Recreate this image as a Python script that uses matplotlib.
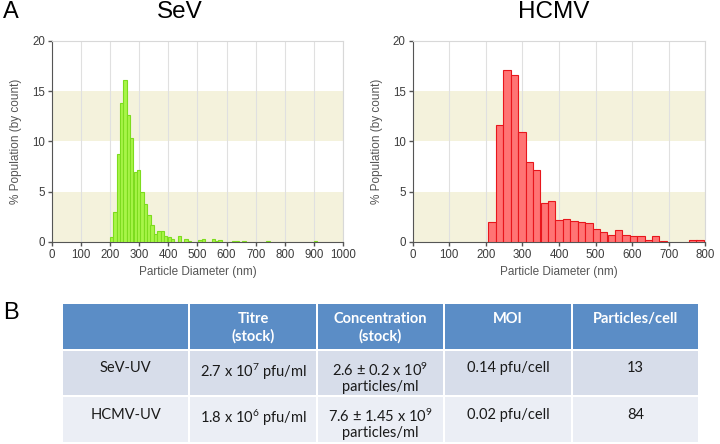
import matplotlib.pyplot as plt
from matplotlib.patches import Rectangle

plt.rcParams['font.family'] = ['Liberation Sans', 'DejaVu Sans']
plt.rcParams['mathtext.fontset'] = 'custom'
plt.rcParams['mathtext.rm'] = 'Lato'
plt.rcParams['mathtext.it'] = 'Lato'
plt.rcParams['mathtext.default'] = 'rm'

# SeV particle size distribution (bin centre in nm, % population)
sev_diam = [204, 216, 228, 239, 251, 263, 274, 286, 298, 309, 321, 333, 344,
            356, 368, 380, 391, 403, 415, 438, 461, 473, 508, 520, 555, 566,
            578, 625, 637, 660, 742, 905]
sev_pct = [0.5, 3.0, 8.8, 13.8, 16.1, 12.6, 10.3, 7.0, 7.2, 5.0, 3.8, 2.7, 1.7,
           0.8, 1.1, 1.1, 0.6, 0.5, 0.3, 0.6, 0.3, 0.1, 0.2, 0.3, 0.3, 0.1,
           0.15, 0.05, 0.1, 0.1, 0.1, 0.1]
sev_binw = 11.7

# HCMV particle size distribution
hcmv_diam = [217, 238, 258, 278, 299, 319, 339, 360, 380, 400, 421, 441, 461,
             482, 502, 522, 543, 563, 583, 603, 624, 644, 664, 685, 766, 786]
hcmv_pct = [1.95, 11.6, 17.15, 16.6, 10.95, 7.93, 7.2, 3.83, 4.1, 2.2, 2.3,
            2.08, 1.98, 1.88, 1.29, 0.96, 0.66, 1.22, 0.66, 0.56, 0.56, 0.17,
            0.6, 0.05, 0.17, 0.17]
hcmv_binw = 20.3

# table B
col_heads = ['', 'Titre\n(stock)', 'Concentration\n(stock)', 'MOI', 'Particles/cell']
row_names = ['SeV-UV', 'HCMV-UV']
titre = [r'2.7 x 10$^7$ pfu/ml', r'1.8 x 10$^6$ pfu/ml']
conc = [r'2.6 ± 0.2 x 10$^9$' + '\nparticles/ml',
        r'7.6 ± 1.45 x 10$^9$' + '\nparticles/ml']
moi = ['0.14 pfu/cell', '0.02 pfu/cell']
per_cell = ['13', '84']

fig = plt.figure(figsize=(7.2, 4.44), dpi=100)


def hist_panel(ax, diam, pct, binw, xmax, face, edge):
    for lo in (0, 10):
        ax.axhspan(lo, lo + 5, color='#f4f2dc', lw=0, zorder=0)
    ax.bar(diam, pct, width=binw, color=face, edgecolor=edge, linewidth=0.8, zorder=3)
    ax.set_xlim(0, xmax)
    ax.set_ylim(0, 20)
    ax.set_xticks(range(0, xmax + 1, 100))
    ax.set_yticks(range(0, 21, 5))
    ax.set_axisbelow(True)
    ax.grid(axis='x', color='#e0e0e0', lw=0.8)
    for s in ('left', 'bottom'):
        ax.spines[s].set_color('#555555')
    for s in ('top', 'right'):
        ax.spines[s].set_color('#d8d8d8')
    ax.tick_params(length=3, width=1, color='#555555', labelsize=8.3,
                   labelcolor='#3c3c3c', pad=2)
    ax.set_xlabel('Particle Diameter (nm)', fontsize=8.5, color='#555555', labelpad=4)
    ax.set_ylabel('% Population (by count)', fontsize=8.5, color='#555555', labelpad=7)


ax1 = fig.add_axes([0.0722, 0.455, 0.4042, 0.4527])
hist_panel(ax1, sev_diam, sev_pct, sev_binw, 1000, '#a8f548', '#7ddc1e')
ax2 = fig.add_axes([0.5732, 0.455, 0.4064, 0.4527])
hist_panel(ax2, hcmv_diam, hcmv_pct, hcmv_binw, 800, '#ff7474', '#e8161c')

fig.text(0.004, 0.972, 'A', fontsize=17, va='center', ha='left')
fig.text(0.25, 0.972, 'SeV', fontsize=17.5, va='center', ha='center')
fig.text(0.769, 0.972, 'HCMV', fontsize=17.5, va='center', ha='center')
fig.text(0.004, 0.296, 'B', fontsize=17, va='center', ha='left')

# table
axt = fig.add_axes([0.0861, 0.0023, 0.8847, 0.3153])
axt.set_xlim(0, 5)
axt.set_ylim(3, 0)
axt.axis('off')
rows = [col_heads] + [[row_names[i], titre[i], conc[i], moi[i], per_cell[i]]
                      for i in range(len(row_names))]
fills = ['#5b8dc6', '#d7ddea', '#ebeef5']
gx, gy = 0.008, 0.022
for r, cells in enumerate(rows):
    for c, txt in enumerate(cells):
        axt.add_patch(Rectangle((c + gx, r + gy), 1 - 2 * gx, 1 - 2 * gy,
                                facecolor=fills[r], edgecolor='none'))
        if r == 0:
            axt.text(c + 0.5, r + 0.2, txt, ha='center', va='top', color='white',
                     fontsize=10.5, fontweight='bold', family='Lato', linespacing=1.2)
        else:
            axt.text(c + 0.5, r + 0.25, txt, ha='center', va='top', color='#1a1a1a',
                     fontsize=10.5, family='Lato', linespacing=1.1)

fig.savefig('out.png', dpi=100)
